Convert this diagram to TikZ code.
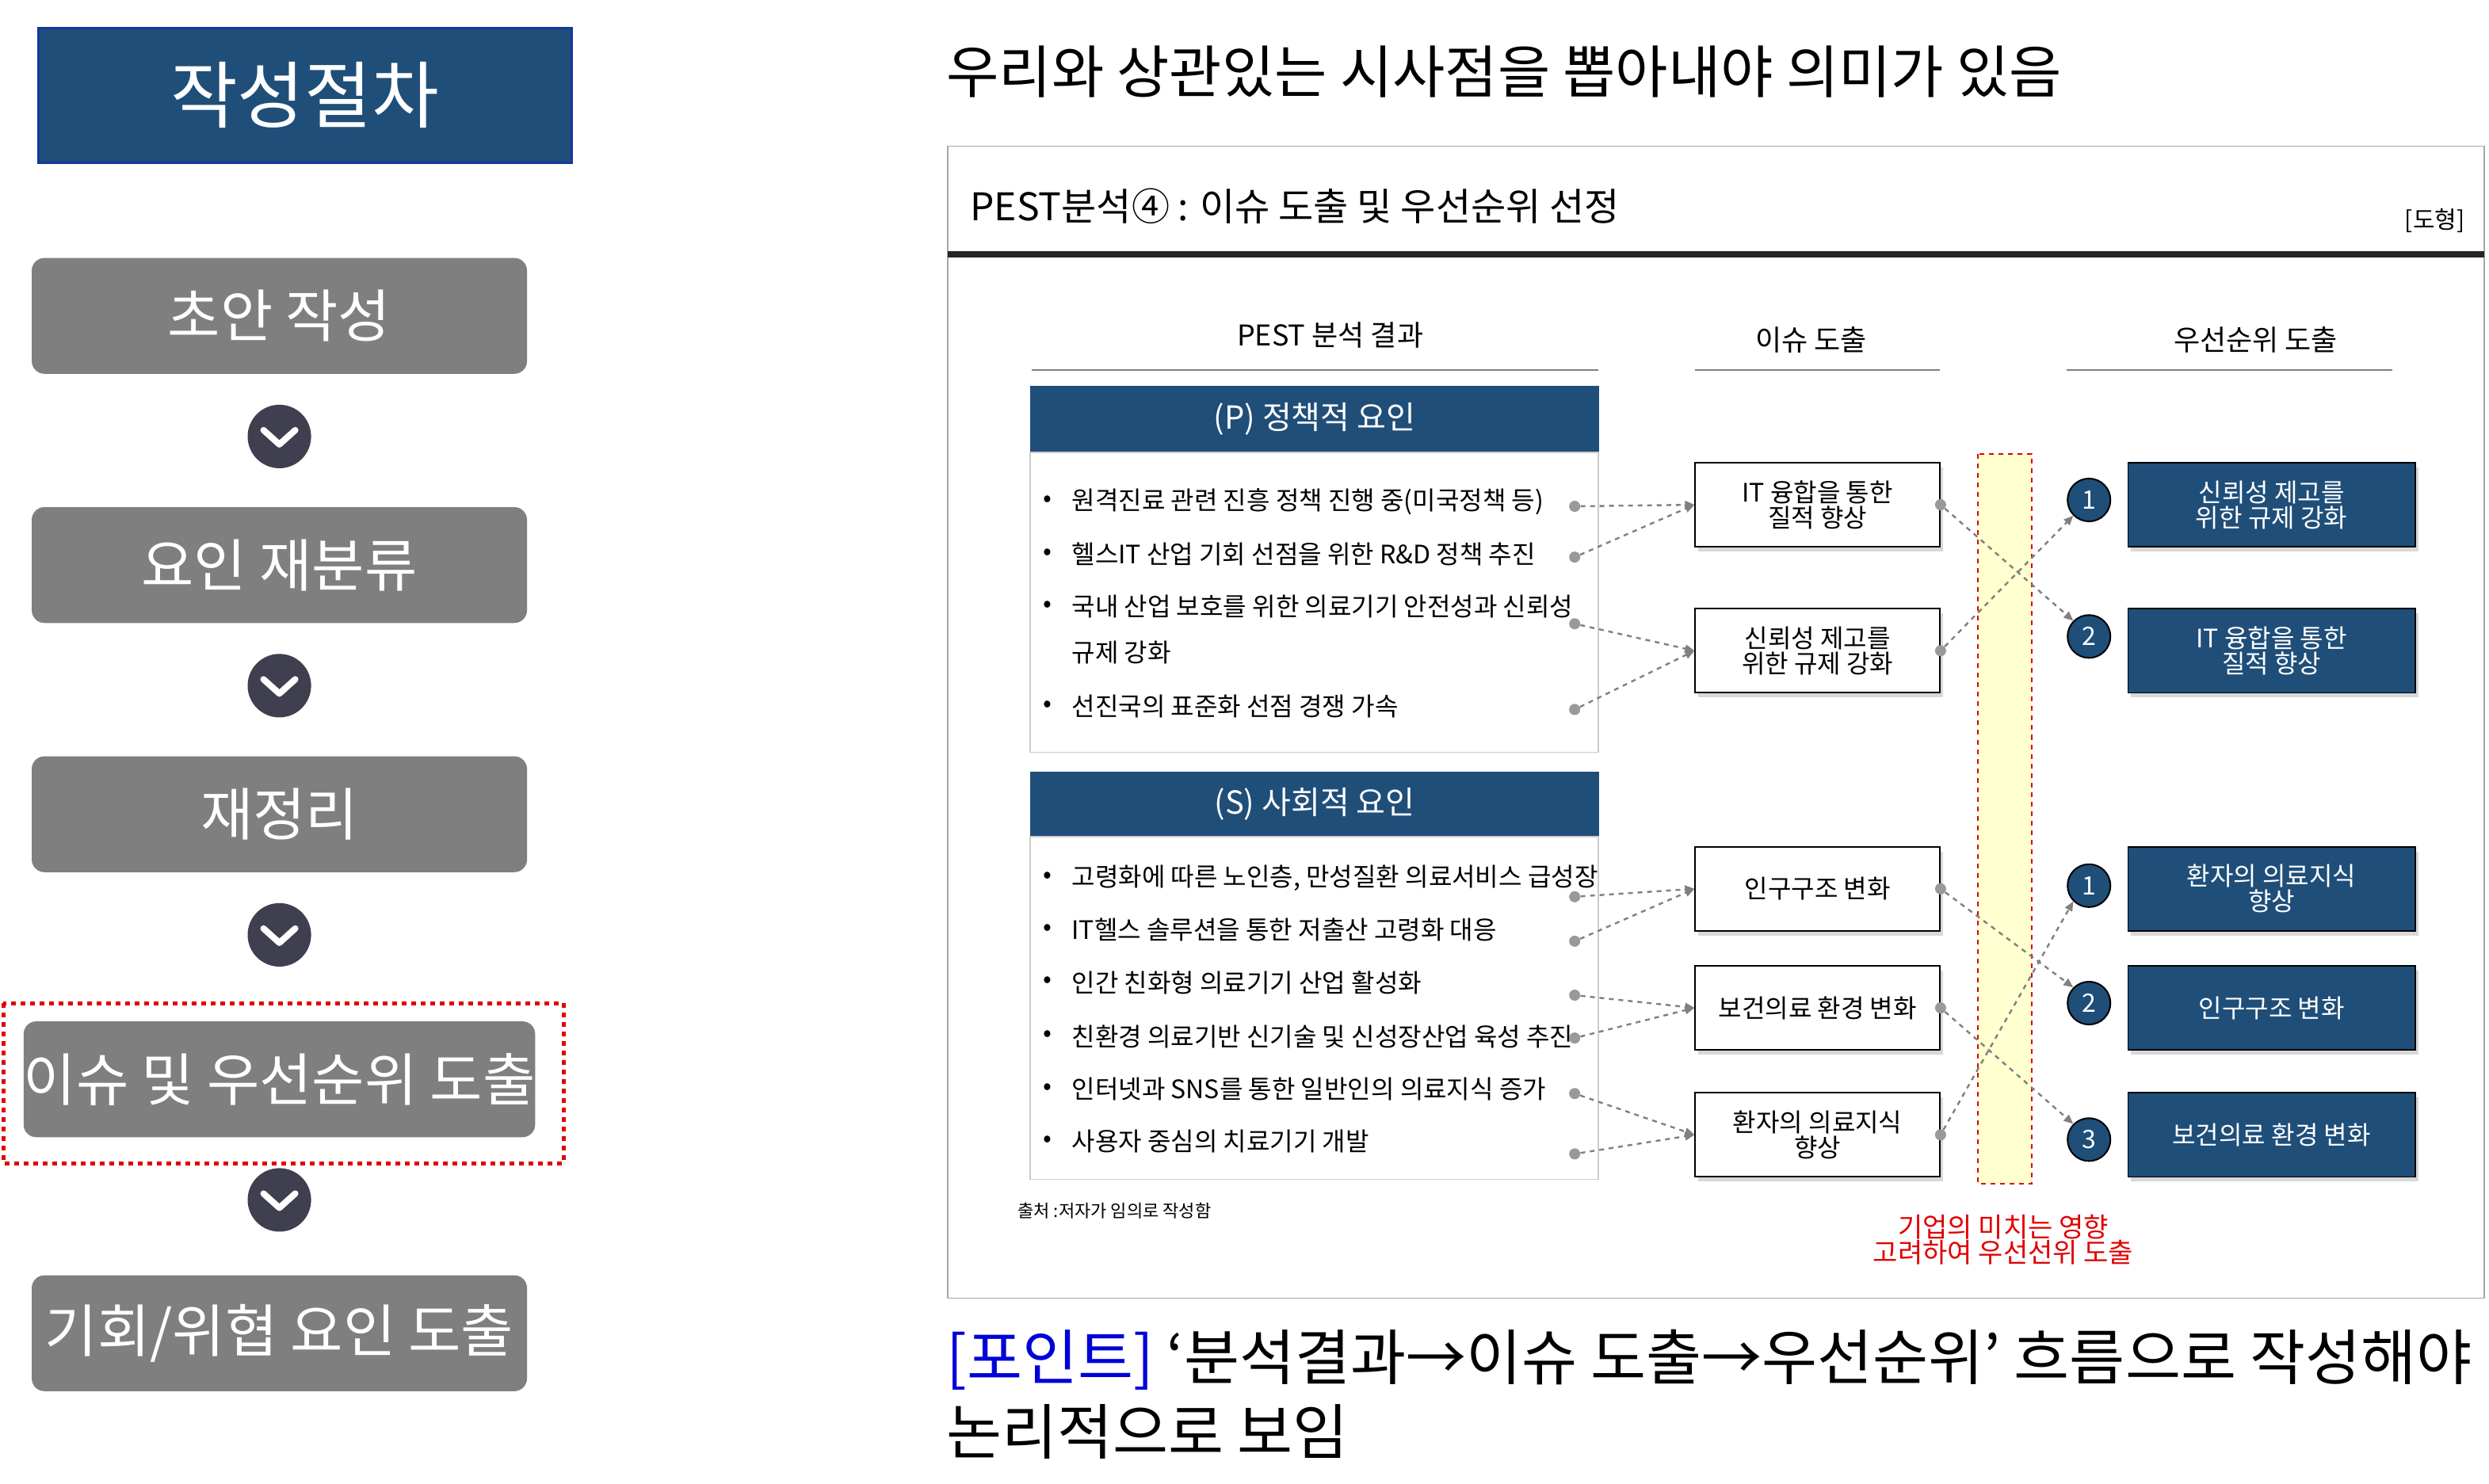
\documentclass[tikz,border=0pt]{standalone}
\usepackage{fontspec}
\setmainfont{Noto Sans CJK KR}
\usetikzlibrary{arrows.meta,shadows}
\definecolor{navy}{HTML}{1F4E79}
\definecolor{gbox}{HTML}{7F7F7F}
\definecolor{chev}{HTML}{3F3F4F}
\definecolor{redc}{HTML}{E00000}
\definecolor{band}{HTML}{FFFFD0}
\newcommand{\fs}[1]{\fontsize{#1}{#1}\selectfont}
\tikzset{
 stepbox/.style={fill=gbox,rounded corners=8pt,text=white,font=\fs{36},minimum width=312pt,minimum height=73pt,inner sep=0pt},
 chevc/.style={circle,fill=chev,minimum size=40pt,inner sep=0pt},
 issue/.style={draw=black,line width=1pt,fill=white,minimum width=154pt,minimum height=53pt,align=center,font=\fs{16},inner sep=0pt,drop shadow={shadow xshift=2pt,shadow yshift=-3pt,opacity=0.3}},
 prio/.style={draw=black,line width=0.8pt,fill=navy,text=white,minimum width=181pt,minimum height=53pt,align=center,font=\fs{16},inner sep=0pt,drop shadow={shadow xshift=2pt,shadow yshift=-3pt,opacity=0.3}},
 numc/.style={circle,draw=black,line width=1pt,fill=navy,text=white,minimum size=27pt,inner sep=0pt,font=\fs{16}},
 dotc/.style={circle,fill=gray!80,minimum size=7pt,inner sep=0pt},
 conn/.style={draw=gray,dashed,line width=1.2pt,-{Triangle[length=6pt,width=5pt]}},
 item/.style={anchor=west,font=\fs{16},inner sep=0pt},
 colh/.style={font=\fs{18},inner sep=0pt},
}
\begin{document}
\begin{tikzpicture}[x=1pt,y=-1pt]
\useasboundingbox (0,0) rectangle (1568,935);
\fill[white] (0,0) rectangle (1568,935);
% left
\node[draw=navy!70!blue,line width=1.5pt,fill=navy,text=white,font=\fs{46},minimum width=336pt,minimum height=85pt,inner sep=0pt] (title) at (192,60) {작성절차};
\node[stepbox] (s1) at (176,199) {초안 작성};
\node[stepbox] (s2) at (176,356) {요인 재분류};
\node[stepbox] (s3) at (176,513) {재정리};
\node[stepbox] (s4) at (176,680) {이슈 및 우선순위 도출};
\node[stepbox] (s5) at (176,840) {기회/위협 요인 도출};
\foreach \y/\n in {275/c1,432/c2,589/c3,756/c4}{
 \node[chevc] (\n) at (176,\y) {};
 \draw[white,line width=4pt,line cap=round,line join=round] (166,\y-4) -- (176,\y+5) -- (186,\y-4);
}
\draw[redc,dashed,line width=2.5pt] (2,632) rectangle (355,733);
% top heading
\node[anchor=west,font=\fs{36},inner sep=0pt] (head) at (596,45) {우리와 상관있는 시사점을 뽑아내야 의미가 있음};
% frame
\draw[gray!70,line width=0.8pt] (597,92) rectangle (1565,818);
\node[anchor=west,font=\fs{24},inner sep=0pt] (ptitle) at (611,130) {PEST분석④ : 이슈 도출 및 우선순위 선정};
\node[anchor=east,font=\fs{15},inner sep=0pt] (dohyung) at (1553,139) {[도형]};
\draw[black!85,line width=4pt] (597,160) -- (1565,160);
\node[colh] (h1) at (838,211) {PEST 분석 결과};
\node[colh] (h2) at (1141,214) {이슈 도출};
\node[colh] (h3) at (1421,214) {우선순위 도출};
\draw[gray,line width=0.8pt] (650,233) -- (1007,233) (1068,233) -- (1222,233) (1302,233) -- (1507,233);
% P
\node[fill=navy,text=white,font=\fs{20},minimum width=358pt,minimum height=42pt,inner sep=0pt,anchor=north west] (ph) at (649,243) {(P) 정책적 요인};
\draw[gray!40,line width=0.8pt] (649,285) rectangle (1007,474);
\foreach \y/\t in {316/원격진료 관련 진흥 정책 진행 중(미국정책 등),349/헬스IT 산업 기회 선점을 위한 R\&D 정책 추진,382/국내 산업 보호를 위한 의료기기 안전성과 신뢰성,445/선진국의 표준화 선점 경쟁 가속}{
 \node[item] at (657,\y) {•};
 \node[item] at (675,\y) {\t};
}
\node[item] at (675,411) {규제 강화};
% S
\node[fill=navy,text=white,font=\fs{20},minimum width=358pt,minimum height=41pt,inner sep=0pt,anchor=north west] (sh) at (649,486) {(S) 사회적 요인};
\draw[gray!40,line width=0.8pt] (649,527) rectangle (1007,743);
\foreach \y/\t in {553/{고령화에 따른 노인층, 만성질환 의료서비스 급성장},586/IT헬스 솔루션을 통한 저출산 고령화 대응,619/인간 친화형 의료기기 산업 활성화,653/친환경 의료기반 신기술 및 신성장산업 육성 추진,686/인터넷과 SNS를 통한 일반인의 의료지식 증가,719/사용자 중심의 치료기기 개발}{
 \node[item] at (657,\y) {•};
 \node[item] at (675,\y) {\t};
}
\node[anchor=west,font=\fs{11},inner sep=0pt] (src) at (641,763) {출처 :저자가 임의로 작성함};
% band
\draw[redc,dashed,line width=1pt,fill=band] (1246,286) rectangle (1280,746);
% issue boxes
\node[issue] (i1) at (1145,318) {IT 융합을 통한\\질적 향상};
\node[issue] (i2) at (1145,410) {신뢰성 제고를\\위한 규제 강화};
\node[issue] (i3) at (1145,560) {인구구조 변화};
\node[issue] (i4) at (1145,635) {보건의료 환경 변화};
\node[issue] (i5) at (1145,715) {환자의 의료지식\\향상};
% priority
\node[prio] (p1) at (1431,318) {신뢰성 제고를\\위한 규제 강화};
\node[prio] (p2) at (1431,410) {IT 융합을 통한\\질적 향상};
\node[prio] (p3) at (1431,560) {환자의 의료지식\\향상};
\node[prio] (p4) at (1431,635) {인구구조 변화};
\node[prio] (p5) at (1431,715) {보건의료 환경 변화};
\node[numc] (n1) at (1316,315) {1};
\node[numc] (n2) at (1316,401) {2};
\node[numc] (n3) at (1316,558) {1};
\node[numc] (n4) at (1316,632) {2};
\node[numc] (n5) at (1316,718) {3};
% dots left
\foreach \n/\y in {a1/319,a2/351,a3/393,a4/447,b1/565,b2/593,b3/627,b4/654,b5/689,b6/727}{
 \node[dotc] (\n) at (992,\y) {};
}
\draw[conn] (a1) -- (i1.west); \draw[conn] (a2) -- (i1.west);
\draw[conn] (a3) -- (i2.west); \draw[conn] (a4) -- (i2.west);
\draw[conn] (b1) -- (i3.west); \draw[conn] (b2) -- (i3.west);
\draw[conn] (b3) -- (i4.west); \draw[conn] (b4) -- (i4.west);
\draw[conn] (b5) -- (i5.west); \draw[conn] (b6) -- (i5.west);
% dots right
\foreach \n/\i in {r1/i1,r2/i2,r3/i3,r4/i4,r5/i5}{
 \node[dotc] (\n) at (\i.east) {};
}
\draw[conn] (r1) -- (n2.north west);
\draw[conn] (r2) -- (n1.south west);
\draw[conn] (r3) -- (n4.north west);
\draw[conn] (r4) -- (n5.north west);
\draw[conn] (r5) -- (n3.south west);
\node[text=redc,font=\fs{17},align=center,inner sep=0pt] (note) at (1262,781) {기업의 미치는 영향\\[-1pt]고려하여 우선선위 도출};
% bottom
\node[anchor=west,font=\fs{38},inner sep=0pt] (pt1) at (596,857) {\textcolor{blue!85!black}{[포인트]} ‘분석결과→이슈 도출→우선순위’ 흐름으로 작성해야};
\node[anchor=west,font=\fs{38},inner sep=0pt] (pt2) at (596,902) {논리적으로 보임};
\end{tikzpicture}
\end{document}
